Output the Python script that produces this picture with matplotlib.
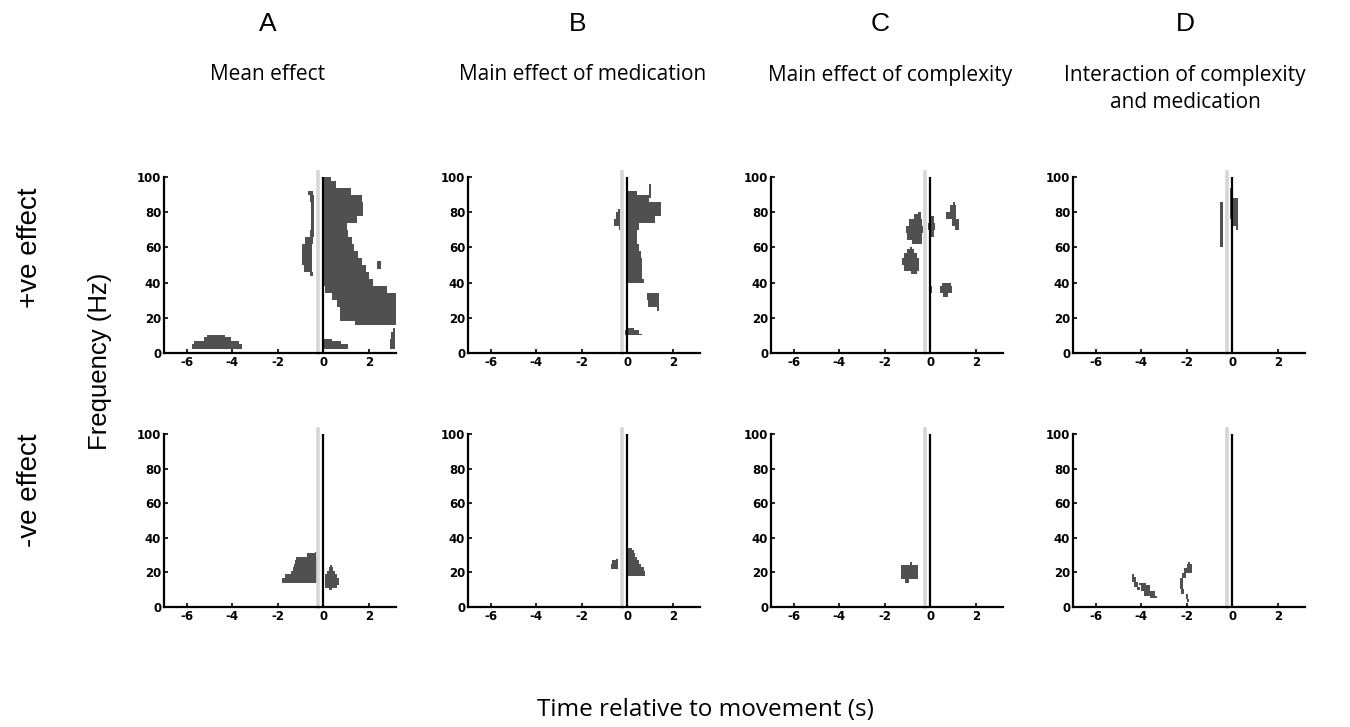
"""
Time-frequency significance maps (4 contrasts x +ve / -ve effect).
Clusters are given as rows: frequency (Hz), start time (s), end time (s).
"""

import matplotlib
matplotlib.use("Agg")
import matplotlib.pyplot as plt

# ---------------------------------------------------------------------------
# Data
# ---------------------------------------------------------------------------
COLUMN_LETTERS = ["A", "B", "C", "D"]
COLUMN_TITLES = ["Mean effect", "Main effect of medication",
                 "Main effect of complexity", "Interaction of complexity\nand medication"]
ROW_LABELS = ["+ve effect", "-ve effect"]
X_TICKS = [-6, -4, -2, 0, 2]
Y_TICKS = [0, 20, 40, 60, 80, 100]
MOVEMENT_ONSET = 0.0
CUE_TIME = -0.25

# A, +ve
a_pos_main_f = [100, 96, 92, 88, 84, 80, 76, 72, 68, 64, 60, 56, 52, 48, 44, 40, 36, 32, 28, 24, 20, 16]
a_pos_main_lo = [0.0, 0.0, 0.0, 0.0, 0.0, 0.0, 0.0, 0.0, 0.0, 0.0, 0.0, 0.0, 0.0, 0.0, 0.0, 0.0, 0.1, 0.4, 0.6, 0.75, 0.75, 1.4]
a_pos_main_hi = [0.35, 0.55, 1.2, 1.7, 1.75, 1.75, 1.5, 1.05, 1.1, 1.25, 1.35, 1.55, 1.7, 1.9, 2.0, 2.2, 2.8, 3.2, 3.2, 3.2, 3.2, 3.2]
a_pos_isle_f = [48, 52]
a_pos_isle_lo = [2.35, 2.35]
a_pos_isle_hi = [2.55, 2.55]
a_pos_pre_f = [92, 88, 84, 80, 76, 72, 68, 64, 60, 56, 52, 48, 44]
a_pos_pre_lo = [-0.65, -0.6, -0.55, -0.55, -0.55, -0.55, -0.6, -0.8, -0.95, -0.95, -0.95, -0.85, -0.6]
a_pos_pre_hi = [-0.45, -0.4, -0.4, -0.4, -0.4, -0.4, -0.4, -0.45, -0.5, -0.5, -0.5, -0.5, -0.45]
a_pos_low_f = [2, 4, 6, 8, 10]
a_pos_low_lo = [-5.75, -5.75, -5.7, -5.25, -5.1]
a_pos_low_hi = [-3.55, -3.55, -3.7, -4.05, -4.3]
a_pos_post_f = [2, 4, 6, 8]
a_pos_post_lo = [0.05, 0.05, 0.05, 0.05]
a_pos_post_hi = [1.1, 1.1, 0.8, 0.4]
a_pos_edge_f = [2, 6, 10, 14]
a_pos_edge_lo = [2.95, 2.95, 3.0, 3.05]
a_pos_edge_hi = [3.15, 3.15, 3.15, 3.15]

# A, -ve
a_neg_main_f = [14, 16, 18, 20, 22, 24, 26, 28, 30, 32]
a_neg_main_lo = [-1.8, -1.8, -1.7, -1.4, -1.35, -1.3, -1.25, -1.2, -0.7, -0.35]
a_neg_main_hi = [-0.2, -0.2, -0.2, -0.2, -0.2, -0.2, -0.2, -0.2, -0.3, -0.25]
a_neg_post_f = [10, 12, 14, 16, 18, 20, 22, 24]
a_neg_post_lo = [0.25, 0.1, 0.1, 0.1, 0.1, 0.15, 0.25, 0.3]
a_neg_post_hi = [0.4, 0.6, 0.68, 0.68, 0.6, 0.5, 0.45, 0.4]

# B, +ve
b_pos_main_f = [92, 88, 84, 80, 76, 72, 68, 64, 60, 56, 52, 48, 44, 40]
b_pos_main_lo = [-0.05] * 14
b_pos_main_hi = [0.45, 0.95, 1.5, 1.5, 1.2, 0.5, 0.45, 0.45, 0.5, 0.6, 0.65, 0.65, 0.65, 0.75]
b_pos_spike_f = [88, 92, 96]
b_pos_spike_lo = [0.95, 0.95, 0.97]
b_pos_spike_hi = [1.05, 1.05, 1.03]
b_pos_block_f = [24, 28, 32, 34]
b_pos_block_lo = [1.3, 0.9, 0.85, 0.85]
b_pos_block_hi = [1.4, 1.4, 1.4, 1.4]
b_pos_low_f = [10, 12, 14]
b_pos_low_lo = [-0.1, -0.1, -0.05]
b_pos_low_hi = [0.65, 0.5, 0.3]
b_pos_pre_f = [70, 74, 78, 82]
b_pos_pre_lo = [-0.35, -0.6, -0.5, -0.4]
b_pos_pre_hi = [-0.3, -0.3, -0.3, -0.3]

# B, -ve
b_neg_pre_f = [22, 24, 26, 28]
b_neg_pre_lo = [-0.7, -0.7, -0.65, -0.5]
b_neg_pre_hi = [-0.4, -0.4, -0.4, -0.4]
b_neg_main_f = [18, 20, 22, 24, 26, 28, 30, 32, 34]
b_neg_main_lo = [-0.05] * 9
b_neg_main_hi = [0.8, 0.8, 0.75, 0.6, 0.5, 0.45, 0.35, 0.3, 0.2]

# C, +ve
c_pos_1_f = [62, 66, 70, 74, 78, 80]
c_pos_1_lo = [-0.8, -1.0, -1.05, -0.95, -0.7, -0.55]
c_pos_1_hi = [-0.35, -0.35, -0.3, -0.35, -0.4, -0.4]
c_pos_2_f = [45, 48, 52, 56, 58, 60]
c_pos_2_lo = [-0.85, -1.15, -1.25, -1.15, -1.0, -0.9]
c_pos_2_hi = [-0.6, -0.5, -0.5, -0.6, -0.7, -0.8]
c_pos_3_f = [64, 68, 72, 76, 80, 84]
c_pos_3_lo = [-0.05, -0.05, -0.08, -0.05, -0.05, -0.05]
c_pos_3_hi = [0.05, 0.15, 0.2, 0.15, 0.05, 0.05]
c_pos_4_f = [70, 74, 78, 82, 86]
c_pos_4_lo = [1.1, 0.95, 0.7, 0.85, 1.0]
c_pos_4_hi = [1.25, 1.25, 1.15, 1.15, 1.1]
c_pos_5_f = [32, 36, 40]
c_pos_5_lo = [0.55, 0.45, 0.5]
c_pos_5_hi = [0.8, 0.95, 0.9]
c_pos_6_f = [34, 38]
c_pos_6_lo = [-0.06, -0.06]
c_pos_6_hi = [0.06, 0.06]

# C, -ve
c_neg_f = [14, 18, 22, 26]
c_neg_lo = [-1.1, -1.3, -1.3, -0.9]
c_neg_hi = [-0.95, -0.55, -0.55, -0.8]

# D, +ve
d_pos_1_f = [60, 64, 68, 72, 76, 80, 84, 86]
d_pos_1_lo = [-0.55] * 8
d_pos_1_hi = [-0.4] * 8
d_pos_2_f = [70, 74, 78, 82, 86, 90, 94]
d_pos_2_lo = [0.15, 0.05, -0.1, -0.1, -0.1, -0.1, -0.08]
d_pos_2_hi = [0.25, 0.25, 0.25, 0.25, 0.25, 0.05, 0.05]

# D, -ve
d_neg_1_f = [5, 8, 11, 14]
d_neg_1_lo = [-3.6, -3.9, -4.0, -4.1]
d_neg_1_hi = [-3.3, -3.4, -3.6, -3.8]
d_neg_2_f = [10, 13, 16, 19]
d_neg_2_lo = [-4.2, -4.3, -4.4, -4.4]
d_neg_2_hi = [-4.05, -4.15, -4.25, -4.3]
d_neg_3_f = [3, 6, 9, 12, 15, 18, 21, 24, 26]
d_neg_3_lo = [-2.0, -2.05, -2.25, -2.3, -2.3, -2.2, -2.1, -2.0, -1.95]
d_neg_3_hi = [-1.9, -1.95, -2.1, -2.15, -2.15, -2.05, -1.75, -1.75, -1.85]

CLUSTERS = {
    (0, 0): [(a_pos_main_f, a_pos_main_lo, a_pos_main_hi),
             (a_pos_isle_f, a_pos_isle_lo, a_pos_isle_hi),
             (a_pos_pre_f, a_pos_pre_lo, a_pos_pre_hi),
             (a_pos_low_f, a_pos_low_lo, a_pos_low_hi),
             (a_pos_post_f, a_pos_post_lo, a_pos_post_hi),
             (a_pos_edge_f, a_pos_edge_lo, a_pos_edge_hi)],
    (1, 0): [(a_neg_main_f, a_neg_main_lo, a_neg_main_hi),
             (a_neg_post_f, a_neg_post_lo, a_neg_post_hi)],
    (0, 1): [(b_pos_main_f, b_pos_main_lo, b_pos_main_hi),
             (b_pos_spike_f, b_pos_spike_lo, b_pos_spike_hi),
             (b_pos_block_f, b_pos_block_lo, b_pos_block_hi),
             (b_pos_low_f, b_pos_low_lo, b_pos_low_hi),
             (b_pos_pre_f, b_pos_pre_lo, b_pos_pre_hi)],
    (1, 1): [(b_neg_pre_f, b_neg_pre_lo, b_neg_pre_hi),
             (b_neg_main_f, b_neg_main_lo, b_neg_main_hi)],
    (0, 2): [(c_pos_1_f, c_pos_1_lo, c_pos_1_hi),
             (c_pos_2_f, c_pos_2_lo, c_pos_2_hi),
             (c_pos_3_f, c_pos_3_lo, c_pos_3_hi),
             (c_pos_4_f, c_pos_4_lo, c_pos_4_hi),
             (c_pos_5_f, c_pos_5_lo, c_pos_5_hi),
             (c_pos_6_f, c_pos_6_lo, c_pos_6_hi)],
    (1, 2): [(c_neg_f, c_neg_lo, c_neg_hi)],
    (0, 3): [(d_pos_1_f, d_pos_1_lo, d_pos_1_hi),
             (d_pos_2_f, d_pos_2_lo, d_pos_2_hi)],
    (1, 3): [(d_neg_1_f, d_neg_1_lo, d_neg_1_hi),
             (d_neg_2_f, d_neg_2_lo, d_neg_2_hi),
             (d_neg_3_f, d_neg_3_lo, d_neg_3_hi)],
}

# ---------------------------------------------------------------------------
# Figure
# ---------------------------------------------------------------------------
W, H = 1350, 727
fig = plt.figure(figsize=(W / 100, H / 100), dpi=100)

col_left = [164, 468, 771, 1073]
col_width = 232
row_top = [177, 434]
row_height = [176, 173]

cluster_color = "#505050"
tick_font = {"family": "DejaVu Sans", "weight": "bold", "size": 8.5}

for r in range(2):
    for c in range(4):
        ax = fig.add_axes([col_left[c] / W, 1 - (row_top[r] + row_height[r]) / H,
                           col_width / W, row_height[r] / H])
        for freqs, lo, hi in CLUSTERS[(r, c)]:
            ax.fill_betweenx(freqs, lo, hi, step="mid", color=cluster_color, lw=0)

        ax.plot([CUE_TIME, CUE_TIME], [0, 103], color="#d6d6d6", lw=2.6, clip_on=False, zorder=1)
        ax.plot([MOVEMENT_ONSET, MOVEMENT_ONSET], [0, 100], color="black", lw=1.6, zorder=3,
                solid_capstyle="butt")

        ax.set_xlim(-7, 3.2)
        ax.set_ylim(0, 100)
        ax.set_xticks(X_TICKS)
        ax.set_yticks(Y_TICKS)
        ax.set_xticklabels([str(v) for v in X_TICKS], fontdict=tick_font)
        ax.set_yticklabels([str(v) for v in Y_TICKS], fontdict=tick_font)
        ax.tick_params(direction="in", length=3, width=1.2, pad=2)
        for side in ["top", "right"]:
            ax.spines[side].set_visible(False)
        for side in ["left", "bottom"]:
            ax.spines[side].set_linewidth(1.6)

# column headings
letter_x = [268, 578, 880, 1185]
title_x = [268, 583, 890, 1185]
for i in range(4):
    fig.text(letter_x[i] / W, 1 - 24 / H, COLUMN_LETTERS[i], ha="center", va="center",
             family="Liberation Sans", fontsize=19)
    for j, line in enumerate(COLUMN_TITLES[i].split("\n")):
        fig.text(title_x[i] / W, 1 - (75 + 27 * j) / H, line, ha="center", va="center",
                 family="Open Sans", fontsize=15)

# row labels
fig.text(30 / W, 1 - 248 / H, ROW_LABELS[0], rotation=90, ha="center", va="center",
         family="Liberation Sans", fontsize=20)
fig.text(30 / W, 1 - 490 / H, ROW_LABELS[1], rotation=90, ha="center", va="center",
         family="Liberation Sans", fontsize=20)
fig.text(100 / W, 1 - 361 / H, "Frequency (Hz)", rotation=90, ha="center", va="center",
         family="Liberation Sans", fontsize=18.5)

fig.text(705 / W, 1 - 710 / H, "Time relative to movement (s)", ha="center", va="center",
         family="Open Sans", fontsize=17.5)

fig.savefig("out.png", dpi=100)
